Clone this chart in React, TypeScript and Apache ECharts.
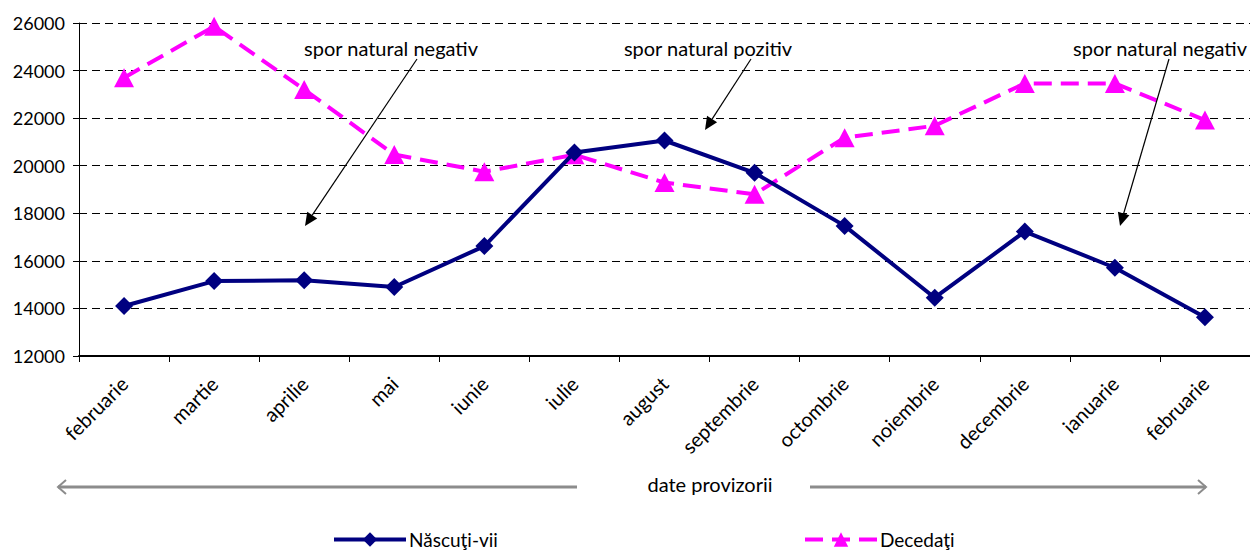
import React, { useEffect, useRef } from "react";
import * as echarts from "echarts";

const months = [
  "februarie", "martie", "aprilie", "mai", "iunie", "iulie", "august",
  "septembrie", "octombrie", "noiembrie", "decembrie", "ianuarie", "februarie",
];
const nascutiVii = [14100, 15150, 15180, 14900, 16620, 20560, 21060, 19700, 17470, 14450, 17230, 15710, 13630];
const decedati = [23700, 25860, 23200, 20470, 19750, 20460, 19290, 18800, 21180, 21680, 23460, 23460, 21920];
const yTicks = { min: 12000, max: 26000, interval: 2000 };
const seriesNames = ["Născuţi-vii", "Decedaţi"];
const annotations = [
  { text: "spor natural negativ", cx: 391, cy: 48, from: [417, 59], to: [305, 226] },
  { text: "spor natural pozitiv", cx: 708, cy: 48, from: [751, 59], to: [705, 130] },
  { text: "spor natural negativ", cx: 1160, cy: 48, from: [1169, 59], to: [1120, 226] },
];
const footnote = "date provizorii";

const FONT = "Lato";

function arrowHead(from: number[], to: number[], len: number, half: number) {
  const dx = to[0] - from[0];
  const dy = to[1] - from[1];
  const d = Math.sqrt(dx * dx + dy * dy);
  const ux = dx / d, uy = dy / d;
  const bx = to[0] - ux * len, by = to[1] - uy * len;
  return [
    [to[0], to[1]],
    [bx - uy * half, by + ux * half],
    [bx + uy * half, by - ux * half],
  ];
}

export default function App() {
  const ref = useRef<HTMLDivElement>(null);
  useEffect(() => {
    if (!ref.current) return;
    const chart = echarts.init(ref.current, undefined, { renderer: "svg" });
    const graphics: any[] = [];
    annotations.forEach((a) => {
      graphics.push({
        type: "text",
        x: a.cx,
        y: a.cy,
        style: { text: a.text, font: `20px ${FONT}`, fill: "#000", align: "center", verticalAlign: "middle" },
        z: 10,
      });
      const head = arrowHead(a.from, a.to, 13, 6);
      const lineEnd = [(head[1][0] + head[2][0]) / 2, (head[1][1] + head[2][1]) / 2];
      graphics.push({
        type: "line",
        shape: { x1: a.from[0], y1: a.from[1], x2: lineEnd[0], y2: lineEnd[1] },
        style: { stroke: "#000", lineWidth: 1.2 },
        z: 10,
      });
      graphics.push({ type: "polygon", shape: { points: head }, style: { fill: "#000" }, z: 10 });
    });
    const gy = 487;
    const gray = "#8c8c8c";
    graphics.push({
      type: "text",
      x: 710,
      y: 484,
      style: { text: footnote, font: `20px ${FONT}`, fill: "#000", align: "center", verticalAlign: "middle" },
    });
    graphics.push({ type: "line", shape: { x1: 58, y1: gy, x2: 577, y2: gy }, style: { stroke: gray, lineWidth: 3 } });
    graphics.push({ type: "polyline", shape: { points: [[66, gy - 7], [58, gy], [66, gy + 7]] }, style: { stroke: gray, lineWidth: 2, fill: null } });
    graphics.push({ type: "line", shape: { x1: 810, y1: gy, x2: 1206, y2: gy }, style: { stroke: gray, lineWidth: 3 } });
    graphics.push({ type: "polyline", shape: { points: [[1198, gy - 7], [1206, gy], [1198, gy + 7]] }, style: { stroke: gray, lineWidth: 2, fill: null } });

    const legendCommon = {
      top: 530,
      padding: 0,
      itemWidth: 72,
      itemHeight: 18,
      lineStyle: { width: 4 },
      textStyle: { fontFamily: FONT, fontSize: 19, lineHeight: 18, color: "#000", padding: [0, 0, 0, -2] },
    };

    chart.setOption({
      animation: false,
      backgroundColor: "#fff",
      textStyle: { fontFamily: FONT },
      grid: { left: 79, top: 23, width: 1184, height: 333, containLabel: false },
      legend: [
        { ...legendCommon, data: [seriesNames[0]], left: 332 },
        { ...legendCommon, data: [seriesNames[1]], left: 803 },
      ],
      xAxis: {
        type: "category",
        data: months,
        boundaryGap: true,
        axisLine: { lineStyle: { color: "#000", width: 2 } },
        axisTick: { show: true, length: 6, lineStyle: { color: "#000", width: 1 } },
        axisLabel: { rotate: 45, margin: 24, fontFamily: FONT, fontSize: 20, color: "#000", interval: 0 },
        splitLine: { show: false },
      },
      yAxis: {
        type: "value",
        min: yTicks.min,
        max: yTicks.max,
        interval: yTicks.interval,
        axisLine: { show: true, lineStyle: { color: "#000", width: 1 } },
        axisTick: { show: true, length: 6, lineStyle: { color: "#000" } },
        axisLabel: { margin: 14, fontFamily: FONT, fontSize: 18, color: "#000", formatter: (v: number) => String(v) },
        splitLine: { show: true, lineStyle: { color: "#000", width: 1, type: [8, 5] } },
      },
      series: [
        {
          name: seriesNames[0],
          type: "line",
          data: nascutiVii,
          symbol: "diamond",
          symbolSize: 18,
          lineStyle: { color: "#000080", width: 4 },
          itemStyle: { color: "#000080" },
          z: 3,
        },
        {
          name: seriesNames[1],
          type: "line",
          data: decedati,
          symbol: "triangle",
          symbolSize: [20, 19],
          lineStyle: { color: "#ff00ff", width: 4, type: [18, 9] },
          itemStyle: { color: "#ff00ff" },
          z: 2,
        },
      ],
      graphic: graphics,
    });
    return () => chart.dispose();
  }, []);
  return <div ref={ref} style={{ position: "fixed", left: 0, top: 0, width: 1250, height: 550 }} />;
}
